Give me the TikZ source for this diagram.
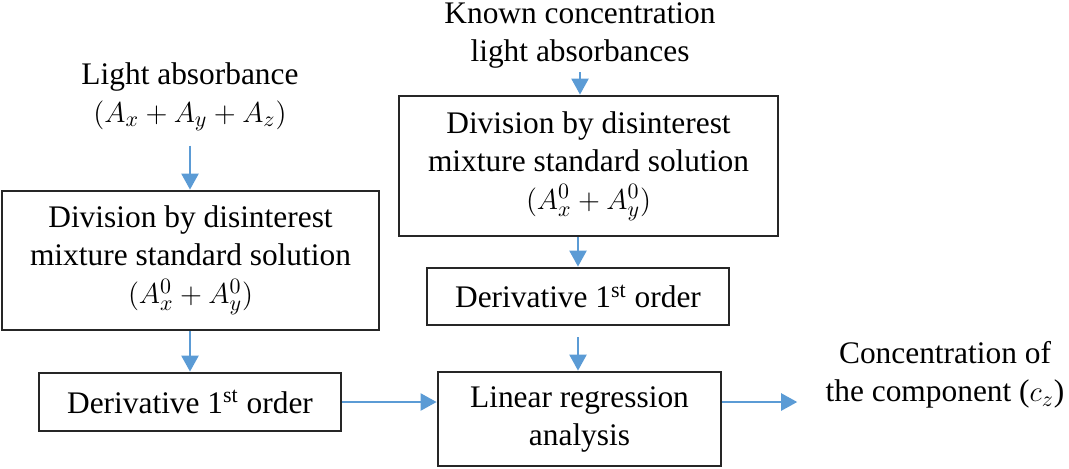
\documentclass[tikz,border=0pt]{standalone}
\usepackage{fontspec}
\setmainfont{Liberation Serif}
\usetikzlibrary{arrows.meta,positioning,calc}
\definecolor{arrowblue}{HTML}{5B9BD5}
\definecolor{boxline}{HTML}{262626}

\begin{document}
\begin{tikzpicture}[
  x=0.5pt,y=-0.5pt,
  font=\fontsize{15.7}{19}\selectfont,
  txt/.style={align=center,inner sep=2pt},
  procbox/.style={txt,draw=boxline,line width=1.4pt},
  arr/.style={-{Triangle[length=8pt,width=8.5pt]},line width=1.2pt,arrowblue}
]
\useasboundingbox (0,0) rectangle (1069,468);
% inputs
\node[txt] (lightin) at (190,97) {Light absorbance\\$(A_x+A_y+A_z)$};
\node[txt] (known) at (580,35) {Known concentration\\light absorbances};
% boxes
\node[procbox,minimum width=188.5pt,minimum height=69.5pt] (div1) at (190.5,260.5) {Division by disinterest\\mixture standard solution\\$(A_x^0+A_y^0)$};
\node[procbox,minimum width=151pt,minimum height=29pt] (der1) at (190,402) {Derivative 1\textsuperscript{st} order};
\node[procbox,minimum width=189.5pt,minimum height=70pt] (div2) at (588.5,166) {Division by disinterest\\mixture standard solution\\$(A_x^0+A_y^0)$};
\node[procbox,minimum width=151pt,minimum height=28.5pt] (der2) at (578,296.5) {Derivative 1\textsuperscript{st} order};
\node[procbox,minimum width=141.5pt,minimum height=47pt] (lin) at (579.5,419) {Linear regression\\analysis};
% result
\node[txt] (outc) at (945,375) {Concentration of\\the component ($c_z$)};
% connectors
\draw[arr,shorten <=5pt] (lightin.south) -- (lightin.south |- div1.north);
\draw[arr] (div1.south -| der1.north) -- (der1.north);
\draw[arr] (der1.east) -- (der1.east -| lin.west);
\draw[arr] (known.south) -- (known.south |- div2.north);
\draw[arr] (der2.north |- div2.south) -- (der2.north);
\draw[arr,shorten <=5.5pt] (der2.south) -- (der2.south |- lin.north);
\draw[arr,shorten >=12pt] (der1.east -| lin.east) -- (der1.east -| outc.west);
\end{tikzpicture}
\end{document}
